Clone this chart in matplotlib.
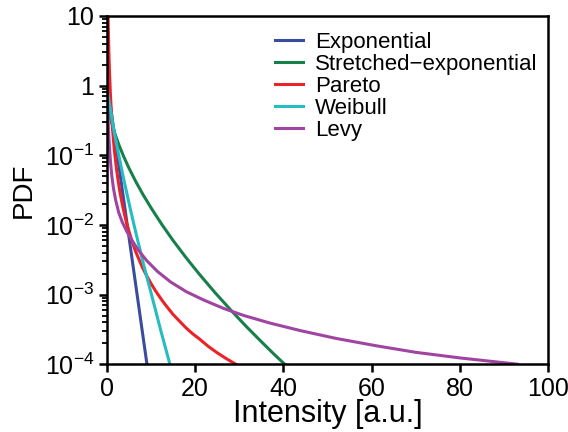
import matplotlib
matplotlib.use('Agg')
import matplotlib.pyplot as plt
from matplotlib.ticker import FixedLocator, LogLocator, NullFormatter

plt.rcParams['font.family'] = ['Liberation Sans', 'DejaVu Sans']
plt.rcParams['mathtext.fontset'] = 'custom'
plt.rcParams['mathtext.rm'] = 'Liberation Sans'

# probability densities, values
exp_x = [0, 2, 4, 6, 8, 9.1]
exp_y = [1.2, 0.152, 0.0193, 0.00245, 3.1e-4, 1.0e-4]

str_x = [0.1, 0.4, 0.8, 1.3, 2.0, 2.8, 3.8, 5.0, 6.5, 8.2, 10.2, 12.5, 15,
         18, 21, 24.5, 28, 31.5, 35, 38, 40.3]
str_y = [0.618, 0.459, 0.349, 0.264, 0.191, 0.138, 0.0968, 0.0659, 0.0427,
         0.0273, 0.0169, 0.0101, 0.0060, 0.00336, 0.00195, 0.00107, 6.08e-4,
         3.53e-4, 2.11e-4, 1.37e-4, 1.0e-4]

par_x = [0.27, 0.35, 0.45, 0.6, 0.8, 1.0, 1.3, 1.7, 2.2, 2.6, 3.0, 3.5, 4.0,
         4.5, 5.0, 5.7, 6.5, 7, 8, 9, 10, 11, 12.5, 13.5, 15, 16.5, 18, 19.5,
         21, 23, 25, 27, 29.2]
par_y = [12, 6.3, 3.37, 1.64, 0.80, 0.46, 0.237, 0.121, 0.0637, 0.0419,
         0.0293, 0.0199, 0.0143, 0.0106, 0.0082, 0.00589, 0.0042, 0.00353,
         0.0025, 0.00188, 0.00145, 0.00114, 8.3e-4, 6.83e-4, 5.2e-4, 4.13e-4,
         3.3e-4, 2.72e-4, 2.3e-4, 1.8e-4, 1.46e-4, 1.21e-4, 1.0e-4]

wei_x = [0.2, 0.5, 0.98, 1.59, 2.72, 3.85, 5.0, 6.2, 8.15, 10.2, 12.2, 14.3]
wei_y = [0.8, 0.6, 0.40, 0.23, 0.1, 0.045, 0.021, 0.0098, 0.0030, 9.6e-4,
         3.1e-4, 1.0e-4]

levy_x = [0.1, 0.15, 0.25, 0.4, 0.6, 0.85, 1.15, 1.5, 2.0, 2.7, 3.5, 4.5, 5.5,
          7, 9, 11.5, 14.5, 18, 22, 26.5, 31, 37, 44, 52, 61, 70, 80, 87, 93]
levy_y = [1.0, 0.631, 0.380, 0.224, 0.132, 0.0794, 0.0501, 0.0339, 0.0229,
          0.0151, 0.0110, 0.00813, 0.00631, 0.00447, 0.00309, 0.00214,
          0.00151, 0.00110, 8.32e-4, 6.31e-4, 5.01e-4, 3.89e-4, 3.02e-4,
          2.34e-4, 1.84e-4, 1.48e-4, 1.23e-4, 1.10e-4, 1.0e-4]

labels = ['Exponential', 'Stretched\u2212exponential', 'Pareto', 'Weibull', 'Levy']
colors = ['#3A4C9E', '#17804A', '#EC2229', '#25BCC2', '#A044A2']

x_ticks = [0, 20, 40, 60, 80, 100]
y_ticks = [1e-4, 1e-3, 1e-2, 1e-1, 1, 10]
y_tick_labels = [r'$\mathregular{10^{-4}}$', r'$\mathregular{10^{-3}}$',
                 r'$\mathregular{10^{-2}}$', r'$\mathregular{10^{-1}}$', '1', '10']

fig = plt.figure(figsize=(5.68, 4.32), dpi=100)
ax = fig.add_axes([0.188, 0.157, 0.777, 0.806])

series = [(exp_x, exp_y), (str_x, str_y), (par_x, par_y), (wei_x, wei_y), (levy_x, levy_y)]
for (xs, ys), lab, col in zip(series, labels, colors):
    ax.plot(xs, ys, color=col, lw=2.2, label=lab)

ax.set_yscale('log')
ax.set_xlim(0, 100)
ax.set_ylim(1e-4, 10)

ax.xaxis.set_major_locator(FixedLocator(x_ticks))
ax.set_yticks(y_ticks)
ax.set_yticklabels(y_tick_labels)
ax.yaxis.set_minor_locator(LogLocator(base=10, subs=range(2, 10), numticks=20))
ax.yaxis.set_minor_formatter(NullFormatter())

for s in ax.spines.values():
    s.set_linewidth(1.8)
ax.tick_params(axis='both', which='major', direction='out', length=6, width=1.8,
               labelsize=18, pad=3)
ax.tick_params(axis='y', which='minor', direction='out', length=3.5, width=1.3)

ax.set_xlabel('Intensity [a.u.]', fontsize=22, labelpad=-1)
ax.set_ylabel('PDF', fontsize=20, labelpad=6)

ax.legend(loc='upper left', bbox_to_anchor=(0.381, 0.955), frameon=False,
          fontsize=16, handlelength=1.25, handletextpad=0.55,
          labelspacing=0.05, borderpad=0, borderaxespad=0)

fig.savefig('out.png', dpi=100)
